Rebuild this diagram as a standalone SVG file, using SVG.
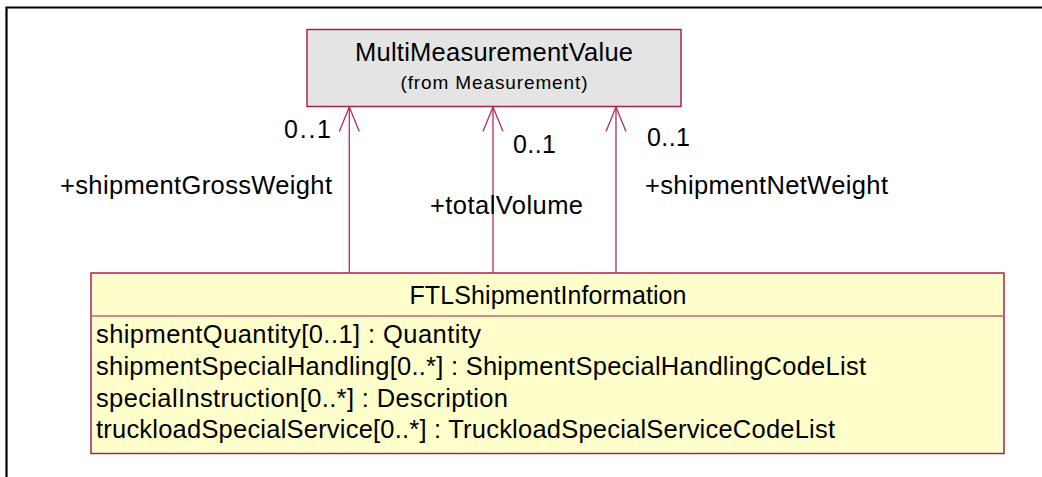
<svg xmlns="http://www.w3.org/2000/svg" width="1042" height="477" viewBox="0 0 1042 477">
<style>
.t{font-family:"Liberation Sans",Arial,sans-serif;fill:#000;}
.box{stroke:#A8234F;stroke-width:1.5;}
.div{stroke:#C86078;stroke-width:1.5;}
.conn{stroke:#B03060;stroke-width:1.3;fill:none;}
</style>
<rect x="0" y="0" width="1042" height="477" fill="#fff"/>
<g id="frame"><path d="M6.5,477 V7.5 H1042" fill="none" stroke="#000" stroke-width="2.2"/></g>
<g id="connectors">
<g id="c1"><line class="conn" x1="349.3" y1="107" x2="349.3" y2="273"/><polyline class="conn" points="339.3,131.5 349.3,107 359.3,131.5"/></g>
<g id="c2"><line class="conn" x1="493" y1="107" x2="493" y2="273"/><polyline class="conn" points="483,131.5 493,107 503,131.5"/></g>
<g id="c3"><line class="conn" x1="616" y1="107" x2="616" y2="273"/><polyline class="conn" points="606,131.5 616,107 626,131.5"/></g>
<text class="t" x="284" y="138" font-size="25" textLength="47">0..1</text>
<text class="t" x="60" y="194" font-size="25.5" textLength="272">+shipmentGrossWeight</text>
<text class="t" x="513" y="153" font-size="25" textLength="43">0..1</text>
<text class="t" x="430" y="214" font-size="25.5" textLength="153">+totalVolume</text>
<text class="t" x="647" y="146" font-size="25" textLength="43">0..1</text>
<text class="t" x="645" y="194" font-size="25.5" textLength="243">+shipmentNetWeight</text>
</g>
<g id="MultiMeasurementValue">
<rect class="box" x="307" y="29.5" width="374" height="77" fill="#E4E4E4"/>
<text class="t" x="494" y="61" font-size="25.5" text-anchor="middle" textLength="278">MultiMeasurementValue</text>
<text class="t" x="494" y="89" font-size="19" text-anchor="middle" textLength="187">(from Measurement)</text>
</g>
<g id="FTLShipmentInformation">
<rect class="box" x="91" y="273" width="913" height="180.5" fill="#FFFFCC"/>
<line class="div" x1="91" y1="316" x2="1004" y2="316"/>
<text class="t" x="548" y="304" font-size="25" text-anchor="middle" textLength="277">FTLShipmentInformation</text>
<text class="t" x="96" y="343" font-size="25.5" textLength="385">shipmentQuantity[0..1] : Quantity</text>
<text class="t" x="96" y="375" font-size="25.5" textLength="770">shipmentSpecialHandling[0..*] : ShipmentSpecialHandlingCodeList</text>
<text class="t" x="96" y="406.5" font-size="25.5" textLength="412">specialInstruction[0..*] : Description</text>
<text class="t" x="96" y="438" font-size="25.5" textLength="739">truckloadSpecialService[0..*] : TruckloadSpecialServiceCodeList</text>
</g>
</svg>
